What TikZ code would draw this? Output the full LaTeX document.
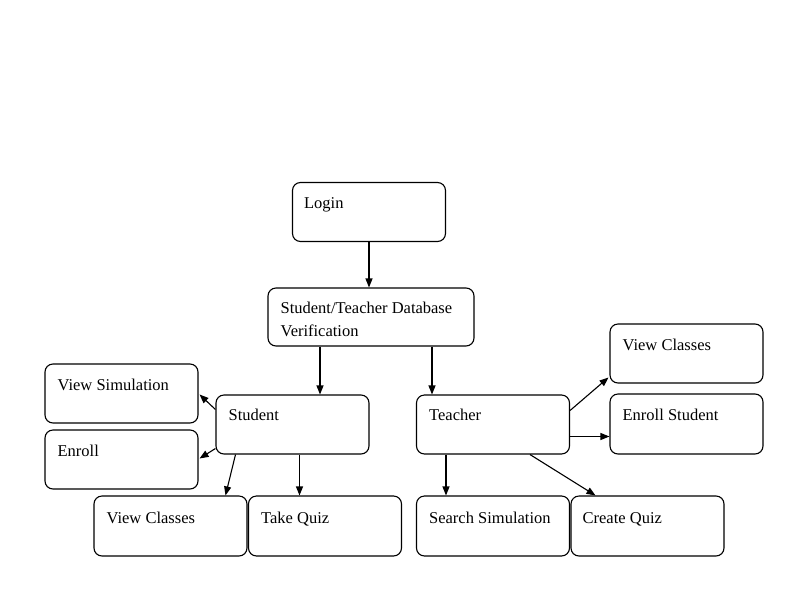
\documentclass[tikz,border=0pt]{standalone}
\usepackage{fontspec}
\setmainfont{Liberation Serif}
\usetikzlibrary{arrows.meta}
\begin{document}
\begin{tikzpicture}[x=1pt,y=-1pt,
  box/.style={draw, line width=1.1pt, rounded corners=8pt, minimum width=153pt, minimum height=59pt, inner sep=0pt},
  txt/.style={anchor=base west, inner sep=0pt, font=\fontsize{16.5}{23}\selectfont, align=left},
  arr/.style={line width=1.1pt, -{Triangle[length=9pt,width=7pt]}}]
\path[use as bounding box, fill=white] (0,0) rectangle (800,600);
% boxes
\node[box] (login) at (369,212) {};
\node[box, minimum width=206pt, minimum height=58pt] (db) at (371,317) {};
\node[box] (student) at (292.5,424.5) {};
\node[box] (teacher) at (493,424.5) {};
\node[box] (vsim) at (121.5,393.5) {};
\node[box] (enroll) at (121.5,459.5) {};
\node[box, minimum height=60pt] (svc) at (170.5,526) {};
\node[box, minimum height=60pt] (quiz) at (325,526) {};
\node[box, minimum height=60pt] (ssim) at (493,526) {};
\node[box, minimum height=60pt] (cquiz) at (647.5,526) {};
\node[box] (tvc) at (686.5,353.5) {};
\node[box, minimum height=60pt] (enst) at (686.5,424) {};
% texts
\node[txt] at ([xshift=12pt,yshift=-27pt]login.north west) {Login};
\node[txt] at ([xshift=13pt,yshift=-49pt]db.north west) {Student/Teacher Database\\Verification};
\node[txt] at ([xshift=13pt,yshift=-26pt]student.north west) {Student};
\node[txt] at ([xshift=13pt,yshift=-26pt]teacher.north west) {Teacher};
\node[txt] at ([xshift=13pt,yshift=-27pt]vsim.north west) {View Simulation};
\node[txt] at ([xshift=13pt,yshift=-27pt]enroll.north west) {Enroll};
\node[txt] at ([xshift=13pt,yshift=-28pt]svc.north west) {View Classes};
\node[txt] at ([xshift=13pt,yshift=-28pt]quiz.north west) {Take Quiz};
\node[txt] at ([xshift=13pt,yshift=-28pt]ssim.north west) {Search Simulation};
\node[txt] at ([xshift=12pt,yshift=-28pt]cquiz.north west) {Create Quiz};
\node[txt] at ([xshift=13pt,yshift=-27pt]tvc.north west) {View Classes};
\node[txt] at ([xshift=13pt,yshift=-27pt]enst.north west) {Enroll Student};
% arrows
\draw[arr] (login.south) -- (login.south |- db.north);
\draw[arr] ([xshift=-51pt]db.south) -- ([xshift=-51pt]db.south |- student.north);
\draw[arr] ([xshift=61pt]db.south) -- ([xshift=61pt]db.south |- teacher.north);
\draw[arr] ([yshift=15pt]student.west) -- ([xshift=1pt,yshift=-1pt]vsim.east);
\draw[arr] ([yshift=-24pt]student.west) -- ([xshift=1pt,yshift=1pt]enroll.east);
\draw[arr] ([xshift=-57pt]student.south) -- ([xshift=55pt]svc.north);
\draw[arr] ([xshift=7pt]student.south) -- ([xshift=7pt]student.south |- quiz.north);
\draw[arr] ([yshift=14pt]teacher.east) -- ([xshift=-1pt,yshift=-24pt]tvc.west);
\draw[arr] ([yshift=-12pt]teacher.east) -- ([yshift=-12pt]teacher.east -| enst.west);
\draw[arr] ([xshift=-47pt]teacher.south) -- ([xshift=-47pt]teacher.south |- ssim.north);
\draw[arr] ([xshift=37pt]teacher.south) -- ([xshift=-52pt]cquiz.north);
\end{tikzpicture}
\end{document}
